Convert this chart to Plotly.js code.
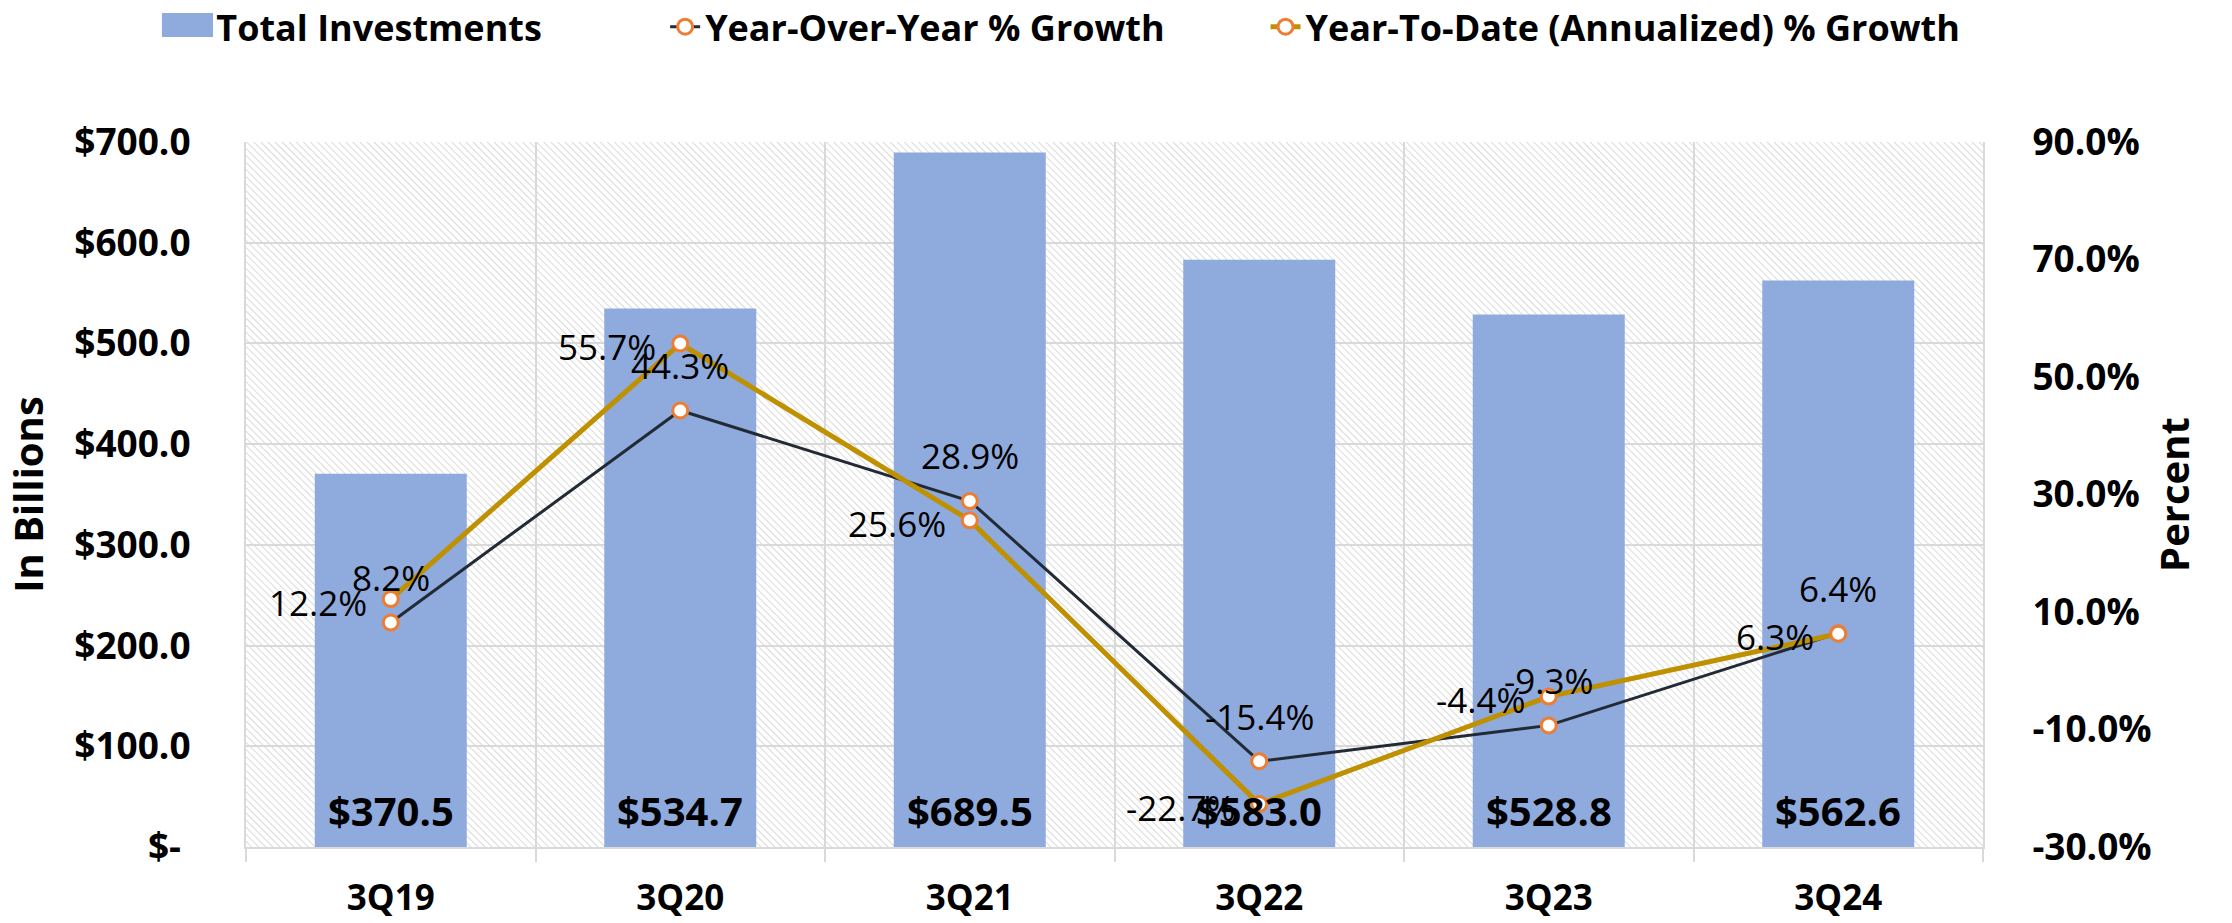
<!DOCTYPE html>
<html>
<head>
<meta charset="utf-8">
<script src="https://cdn.plot.ly/plotly-3.0.1.min.js"></script>
<style>
  html, body { margin: 0; padding: 0; background: #fff; }
  #chart { width: 2232px; height: 923px; }
</style>
</head>
<body>
<div id="chart"></div>
<script>
// quarters and values
var quarters = ["3Q19", "3Q20", "3Q21", "3Q22", "3Q23", "3Q24"];
var totalInvestments = [370.5, 534.7, 689.5, 583.0, 528.8, 562.6];
var yoyGrowth = [8.2, 44.3, 28.9, -15.4, -9.3, 6.4];
var ytdGrowth = [12.2, 55.7, 25.6, -22.7, -4.4, 6.3];

// axis tick labels
var leftTickVals = [0, 100, 200, 300, 400, 500, 600, 700];
var leftTickText = ["$-\u00a0", "$100.0", "$200.0", "$300.0", "$400.0", "$500.0", "$600.0", "$700.0"];
var rightTickVals = [-30, -10, 10, 30, 50, 70, 90];
var rightTickText = ["-30.0%", "-10.0%", "10.0%", "30.0%", "50.0%", "70.0%", "90.0%"];

var boldFont = {family: "Open Sans", size: 37, color: "#000", weight: "bold"};
var gridGray = "#d9d9d9";

// hatched plot background
var hatch = '<svg xmlns="http://www.w3.org/2000/svg" width="1737" height="705">' +
  '<defs><pattern id="p" width="5" height="5" patternUnits="userSpaceOnUse" patternTransform="rotate(-45)">' +
  '<rect width="5" height="5" fill="#fff"/>' +
  '<line x1="0" y1="0" x2="0" y2="5" stroke="#c6c6c6" stroke-width="1.3"/></pattern></defs>' +
  '<rect width="100%" height="100%" fill="url(#p)"/></svg>';

var barTrace = {
  x: quarters,
  y: totalInvestments,
  type: "bar",
  name: "Total Investments",
  marker: {color: "#8faadc"},
  legend: "legend"
};

var yoyTrace = {
  x: quarters,
  y: yoyGrowth,
  yaxis: "y2",
  type: "scatter",
  mode: "lines+markers",
  name: "Year-Over-Year % Growth",
  line: {color: "#222a35", width: 3},
  marker: {symbol: "circle", size: 15, color: "#fff", line: {color: "#ed7d31", width: 3}},
  legend: "legend2"
};

var ytdTrace = {
  x: quarters,
  y: ytdGrowth,
  yaxis: "y2",
  type: "scatter",
  mode: "lines+markers",
  name: "Year-To-Date (Annualized) % Growth",
  line: {color: "#bf9000", width: 5},
  marker: {symbol: "circle", size: 15, color: "#fff", line: {color: "#ed7d31", width: 3}},
  legend: "legend3"
};

var labelFont = {family: "Open Sans", size: 35, color: "#000"};
var annotations = [];
quarters.forEach(function (q, i) {
  // bar value near the base of each bar
  annotations.push({
    x: q, y: 0, xref: "x", yref: "y",
    text: "$" + totalInvestments[i].toFixed(1),
    showarrow: false, xanchor: "center", yanchor: "middle",
    yshift: 37, font: {family: "Open Sans", size: 40, color: "#000", weight: "bold"}
  });
  // YoY above its point, YTD to the left of its point
  annotations.push({
    x: q, y: yoyGrowth[i], xref: "x", yref: "y2",
    text: yoyGrowth[i].toFixed(1) + "%",
    showarrow: false, xanchor: "center", yanchor: "middle",
    yshift: 45, font: labelFont
  });
  annotations.push({
    x: q, y: ytdGrowth[i], xref: "x", yref: "y2",
    text: ytdGrowth[i].toFixed(1) + "%",
    showarrow: false, xanchor: "right", yanchor: "middle",
    xshift: -22, yshift: -3, font: labelFont
  });
});

var legendFont = {family: "Open Sans", size: 36, color: "#000", weight: "bold"};
function legendAt(x) {
  return {
    orientation: "h", xref: "container", yref: "container",
    x: x, y: 0.971, xanchor: "left", yanchor: "middle",
    font: legendFont, bgcolor: "rgba(0,0,0,0)"
  };
}

var layout = {
  width: 2232,
  height: 923,
  margin: {l: 246, r: 249, t: 142, b: 76},
  paper_bgcolor: "#fff",
  plot_bgcolor: "#fff",
  bargap: 0.475,
  showlegend: true,
  legend: legendAt(0.079),
  legend2: legendAt(0.298),
  legend3: legendAt(0.567),
  xaxis: {
    type: "category",
    tickson: "boundaries",
    ticks: "outside",
    ticklen: 13,
    tickwidth: 2,
    tickcolor: gridGray,
    showgrid: true,
    gridcolor: gridGray,
    gridwidth: 2,
    showline: true,
    linecolor: gridGray,
    linewidth: 2,
    tickfont: {family: "Open Sans", size: 35, color: "#000", weight: "bold"},
    ticklabelstandoff: 19
  },
  yaxis: {
    range: [0, 700],
    tickvals: leftTickVals,
    ticktext: leftTickText,
    tickfont: boldFont,
    ticklabelstandoff: 46,
    showgrid: true,
    gridcolor: gridGray,
    gridwidth: 2,
    zeroline: false,
    showline: true,
    linecolor: gridGray,
    linewidth: 2,
    title: {text: "In Billions", font: {family: "Open Sans", size: 40, color: "#000", weight: "bold"}, standoff: 18}
  },
  yaxis2: {
    overlaying: "y",
    side: "right",
    range: [-30, 90],
    tickvals: rightTickVals,
    ticktext: rightTickText,
    tickfont: boldFont,
    ticklabelstandoff: 40,
    showgrid: false,
    zeroline: false,
    showline: true,
    linecolor: gridGray,
    linewidth: 2,
    title: {text: "Percent", font: {family: "Open Sans", size: 40, color: "#000", weight: "bold"}, standoff: 10}
  },
  // wider legend swatch for the bars, as in the original
  shapes: [{
    type: "rect", xref: "paper", yref: "paper",
    x0: -0.0484, x1: -0.019, y0: 1.149, y1: 1.183,
    fillcolor: "#8faadc", line: {width: 0}
  }],
  images: [{
    source: "data:image/svg+xml;charset=utf-8," + encodeURIComponent(hatch),
    xref: "paper", yref: "paper",
    x: 0, y: 1, sizex: 1, sizey: 1,
    xanchor: "left", yanchor: "top",
    sizing: "stretch", layer: "below"
  }],
  annotations: annotations
};

Plotly.newPlot("chart", [barTrace, yoyTrace, ytdTrace], layout, {displayModeBar: false, staticPlot: true});
</script>
</body>
</html>
